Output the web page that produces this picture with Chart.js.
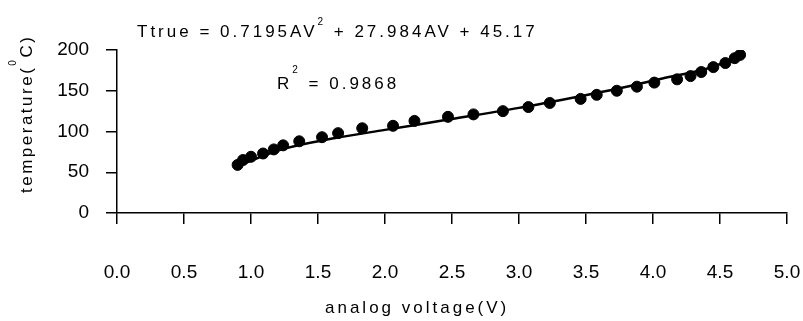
<!DOCTYPE html>
<html>
<head>
<meta charset="utf-8">
<script src="https://cdn.jsdelivr.net/npm/chart.js@4/dist/chart.umd.min.js"></script>
<style>
  html, body { margin: 0; padding: 0; background: #fff; }
  #wrap { width: 803px; height: 321px; position: relative; }
</style>
</head>
<body>
<div id="wrap"><canvas id="calib"></canvas></div>
<script>
// measured points
const voltage = [0.90, 0.94, 1.00, 1.09, 1.17, 1.24, 1.36, 1.53, 1.65, 1.83, 2.06, 2.22, 2.47, 2.66, 2.88,
  3.07, 3.23, 3.46, 3.58, 3.73, 3.88, 4.01, 4.18, 4.28, 4.36, 4.45, 4.54, 4.61, 4.65];
const temperature = [59, 65, 69, 73, 78, 83, 88, 93, 98, 104, 107, 113, 118, 121, 125,
  130, 135, 140, 145, 150, 155, 160, 164, 168, 173, 179, 184, 190, 194];

// trend line as drawn in the picture
const trendVoltage = [0.90, 1.25, 1.63, 2.00, 2.45, 3.00, 3.45, 3.75, 4.07, 4.40, 4.65];
const trendTemp = [58, 79, 92, 102, 114, 129, 143, 153, 165, 177, 192];

const xTicks = [0, 0.5, 1, 1.5, 2, 2.5, 3, 3.5, 4, 4.5, 5];
const yTicks = [0, 50, 100, 150, 200];

const FONT = '"Liberation Sans", Arial, sans-serif';

// text with a raised part: [[text, size, rise], ...]
function drawParts(ctx, parts, x, y) {
  let cx = x;
  for (const [txt, size, rise] of parts) {
    ctx.font = size + 'px ' + FONT;
    ctx.fillText(txt, cx, y - rise);
    cx += ctx.measureText(txt).width;
  }
}

const labels = {
  id: 'labels',
  afterDraw(chart) {
    const ctx = chart.ctx;
    ctx.save();
    ctx.fillStyle = '#000';
    ctx.textAlign = 'left';
    ctx.textBaseline = 'alphabetic';
    ctx.letterSpacing = '3px';

    drawParts(ctx, [['Ttrue = 0.7195AV', 17, 0], ['2', 10, 12], [' + 27.984AV + 45.17', 17, 0]], 137, 37);
    drawParts(ctx, [['R', 17, 0], ['2', 10, 16], [' = 0.9868', 17, 0]], 277, 89);

    // x title
    drawParts(ctx, [['analog voltage(V)', 17, 0]], 325, 313);

    // y title, rotated, reads bottom to top
    ctx.letterSpacing = '2.5px';
    ctx.translate(32, 193);
    ctx.rotate(-Math.PI / 2);
    drawParts(ctx, [['temperature(', 17, 0], ['0', 10, 16], ['C)', 17, 0]], 0, 0);
    ctx.restore();
  }
};

new Chart(document.getElementById('calib'), {
  type: 'scatter',
  data: {
    datasets: [
      {
        label: 'trend',
        type: 'line',
        data: trendVoltage.map((v, i) => ({ x: v, y: trendTemp[i] })),
        borderColor: '#000',
        borderWidth: 2.5,
        pointRadius: 0,
        cubicInterpolationMode: 'monotone',
        fill: false
      },
      {
        label: 'measured',
        data: voltage.map((v, i) => ({ x: v, y: temperature[i] })),
        backgroundColor: '#000',
        borderColor: '#000',
        pointRadius: 5.5,
        pointHoverRadius: 5.5
      }
    ]
  },
  options: {
    animation: false,
    responsive: true,
    maintainAspectRatio: false,
    layout: { padding: { top: 50, right: 16, left: 0, bottom: 0 } },
    plugins: {
      legend: { display: false },
      tooltip: { enabled: false }
    },
    scales: {
      x: {
        type: 'linear',
        min: 0,
        max: 5,
        afterBuildTicks: s => { s.ticks = xTicks.map(v => ({ value: v })); },
        afterFit: s => {
          s.height = 108;
          // tick padding is only meant to push labels down, not sideways
          s.paddingLeft = 0;
          s.paddingRight = 0;
        },
        grid: { drawOnChartArea: false, color: '#000', lineWidth: 1.5, tickLength: 11 },
        border: { color: '#000', width: 1.5 },
        ticks: {
          color: '#000',
          font: { family: FONT, size: 19 },
          padding: 37,
          maxRotation: 0,
          callback: v => v.toFixed(1)
        }
      },
      y: {
        min: 0,
        max: 200,
        afterBuildTicks: s => { s.ticks = yTicks.map(v => ({ value: v })); },
        afterFit: s => { s.width = 117; },
        grid: { drawOnChartArea: false, color: '#000', lineWidth: 1.5, tickLength: 11 },
        border: { color: '#000', width: 1.5 },
        ticks: {
          color: '#000',
          font: { family: FONT, size: 19 },
          padding: 17
        }
      }
    }
  },
  plugins: [labels]
});
</script>
</body>
</html>
